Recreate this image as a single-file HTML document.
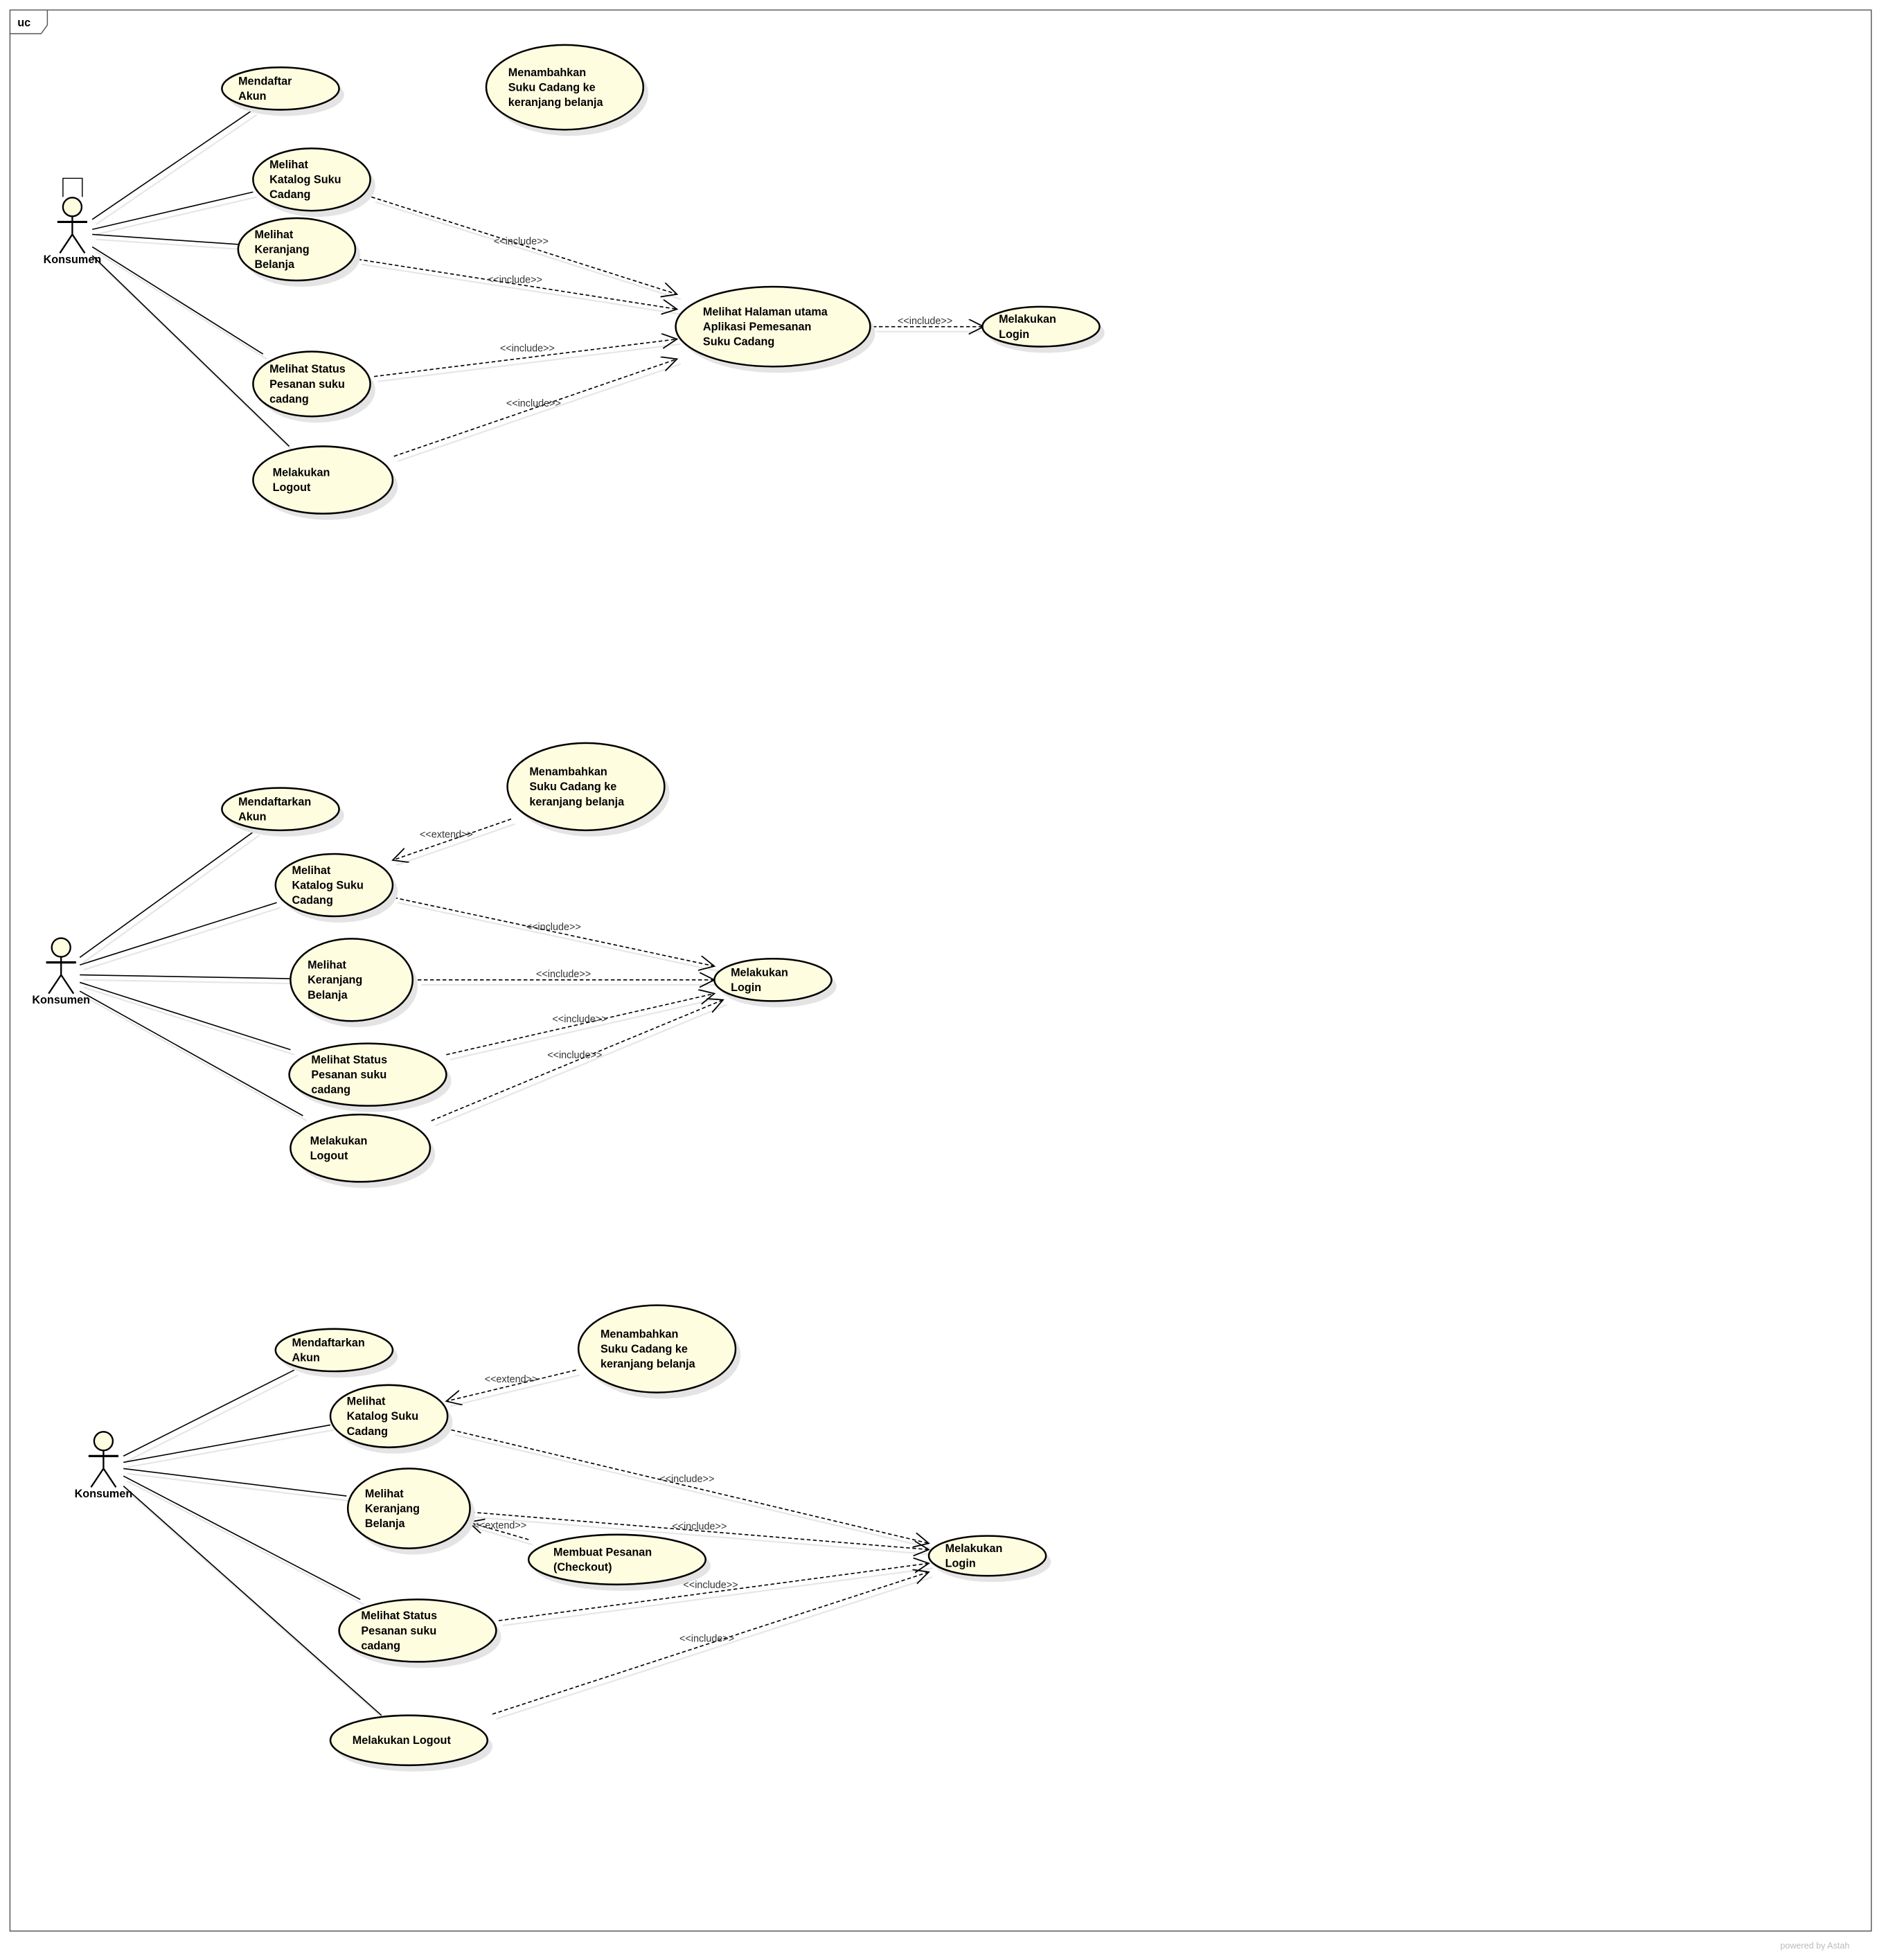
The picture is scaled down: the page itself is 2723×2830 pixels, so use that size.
<!DOCTYPE html>
<html><head><meta charset="utf-8"><style>
html,body{margin:0;padding:0;background:#fff;}
svg{display:block;}
text{font-family:"Liberation Sans",sans-serif;}
</style></head><body>
<svg id="d" xmlns="http://www.w3.org/2000/svg" width="2723" height="2830" viewBox="0 0 1512.8 1572.2">
<defs>
<marker id="ah" markerWidth="14" markerHeight="14" refX="12" refY="6" orient="auto" markerUnits="userSpaceOnUse">
<path d="M0,0 L12,6 L0,12" fill="none" stroke="#000" stroke-width="1"/>
</marker>
</defs>
<rect x="8" y="8" width="1493" height="1541" fill="none" stroke="#555" stroke-width="0.8"/>
<path d="M8,27 L33,27 L38,20 L38,8" fill="none" stroke="#555" stroke-width="0.8"/>
<text x="14" y="21" font-size="9" font-weight="bold">uc</text>
<text x="1428" y="1563" font-size="7" fill="#bbb">powered by Astah</text>
<g id="g"></g>
</svg>
<script>
const useCases = [
 ["Mendaftar|Akun",225,71,47,17],
 ["Menambahkan|Suku Cadang ke|keranjang belanja",453,70,63,34],
 ["Melihat|Katalog Suku|Cadang",250,144,47,25],
 ["Melihat|Keranjang|Belanja",238,200,47,25],
 ["Melihat Halaman utama|Aplikasi Pemesanan|Suku Cadang",620,262,78,32],
 ["Melakukan|Login",835,262,47,16],
 ["Melihat Status|Pesanan suku|cadang",250,308,47,26],
 ["Melakukan|Logout",259,385,56,27],
 ["Mendaftarkan|Akun",225,649,47,17],
 ["Menambahkan|Suku Cadang ke|keranjang belanja",470,631,63,35],
 ["Melihat|Katalog Suku|Cadang",268,710,47,25],
 ["Melihat|Keranjang|Belanja",282,786,49,33],
 ["Melakukan|Login",620,786,47,17],
 ["Melihat Status|Pesanan suku|cadang",295,862,63,25],
 ["Melakukan|Logout",289,921,56,27],
 ["Mendaftarkan|Akun",268,1083,47,17],
 ["Menambahkan|Suku Cadang ke|keranjang belanja",527,1082,63,35],
 ["Melihat|Katalog Suku|Cadang",312,1136,47,25],
 ["Melihat|Keranjang|Belanja",328,1210,49,32],
 ["Membuat Pesanan|(Checkout)",495,1251,71,20],
 ["Melakukan|Login",792,1248,47,16],
 ["Melihat Status|Pesanan suku|cadang",335,1308,63,25],
 ["Melakukan Logout",328,1396,63,20]
];
const actors = [[58,166,true],[49,760,false],[83,1156,false]];
const associations = [
 [74,176,203,88],[74,184,203,154],[74,188,191,196],[74,198,211,284],[74,205,232,358],
 [64,768,205,666],[64,774,222,724],[64,782,233,785],[64,788,233,842],[64,795,243,895],
 [99,1168,236,1099],[99,1173,265,1143],[99,1178,278,1200],[99,1184,289,1283],[99,1192,306,1376]
];
const dependencies = [
 ["include",298,158,543,236,418,193],["include",287,208,543,248,413,224],
 ["include",300,302,543,272,423,279],["include",316,366,543,288,428,323],
 ["include",700,262,789,262,742,257],
 ["extend",410,657,315,690,358,669],["include",316,720,573,775,444,743],
 ["include",335,786,573,786,452,781],["include",358,846,573,797,465,817],
 ["include",346,899,580,802,461,846],
 ["extend",462,1099,358,1124,410,1106],["include",362,1147,745,1238,551,1186],
 ["include",378,1213,745,1243,561,1224],["extend",424,1235,376,1221,401,1223],
 ["include",400,1300,745,1254,570,1271],["include",395,1375,745,1261,567,1314]
];
const NS="http://www.w3.org/2000/svg", g=document.getElementById('g');
function mk(t,a,p){const e=document.createElementNS(NS,t);for(const k in a)e.setAttribute(k,a[k]);(p||g).appendChild(e);return e;}
associations.forEach(a=>{
 mk('line',{x1:a[0]+3,y1:a[1]+4,x2:a[2]+3,y2:a[3]+4,stroke:'#e6e6e6','stroke-width':1.2});
 const l=mk('line',{x1:a[0],y1:a[1],x2:a[2],y2:a[3],stroke:'#000','stroke-width':0.9});
 
 
});
dependencies.forEach(d=>{
 mk('line',{x1:d[1]+3,y1:d[2]+4,x2:d[3]+3,y2:d[4]+4,stroke:'#e6e6e6','stroke-width':1.2});
 const l=mk('line',{x1:d[1],y1:d[2],x2:d[3],y2:d[4],stroke:'#000','stroke-width':0.9,'stroke-dasharray':'3,2','marker-end':'url(#ah)'});
 
 
 const t=mk('text',{x:d[5],y:d[6]+3,'font-size':8,'text-anchor':'middle',fill:'#333'});
 t.textContent='<<'+d[0]+'>>';
 
 
});
useCases.forEach(u=>{
 const [txt,cx,cy,rx,ry]=u;
 mk('ellipse',{cx:cx+4,cy:cy+5,rx:rx,ry:ry,fill:'#e4e4e4'});
 const e=mk('ellipse',{cx:cx,cy:cy,rx:rx,ry:ry,fill:'#fffde0',stroke:'#000','stroke-width':1.4});
 
 
 const lines=txt.split('|'), lh=12;
 const x0=cx-rx*0.72;
 lines.forEach((s,i)=>{
  const t=mk('text',{x:x0,y:cy-(lines.length-1)*lh/2+i*lh+3,'font-size':9,'font-weight':'bold'});
  t.textContent=s;
  
  
 });
});
actors.forEach(a=>{
 const [x,y,box]=a;
 const grp=mk('g',{stroke:'#000','stroke-width':1.3,fill:'none'});
 
 
 if(box) mk('path',{d:`M${x-7.5},${y-8} L${x-7.5},${y-23} L${x+8},${y-23} L${x+8},${y-8}`,'stroke-width':0.8},grp);
 mk('circle',{cx:x,cy:y,r:7.5,fill:'#fffde0'},grp);
 mk('line',{x1:x,y1:y+7.5,x2:x,y2:y+22},grp);
 mk('line',{x1:x-12,y1:y+12,x2:x+12,y2:y+12,'stroke-width':1.8},grp);
 mk('line',{x1:x,y1:y+22,x2:x-10,y2:y+37},grp);
 mk('line',{x1:x,y1:y+22,x2:x+10,y2:y+37},grp);
 const t=mk('text',{x:x,y:y+45,'font-size':9,'font-weight':'bold','text-anchor':'middle'});
 t.textContent='Konsumen';
 
 
});
</script>
</body></html>
